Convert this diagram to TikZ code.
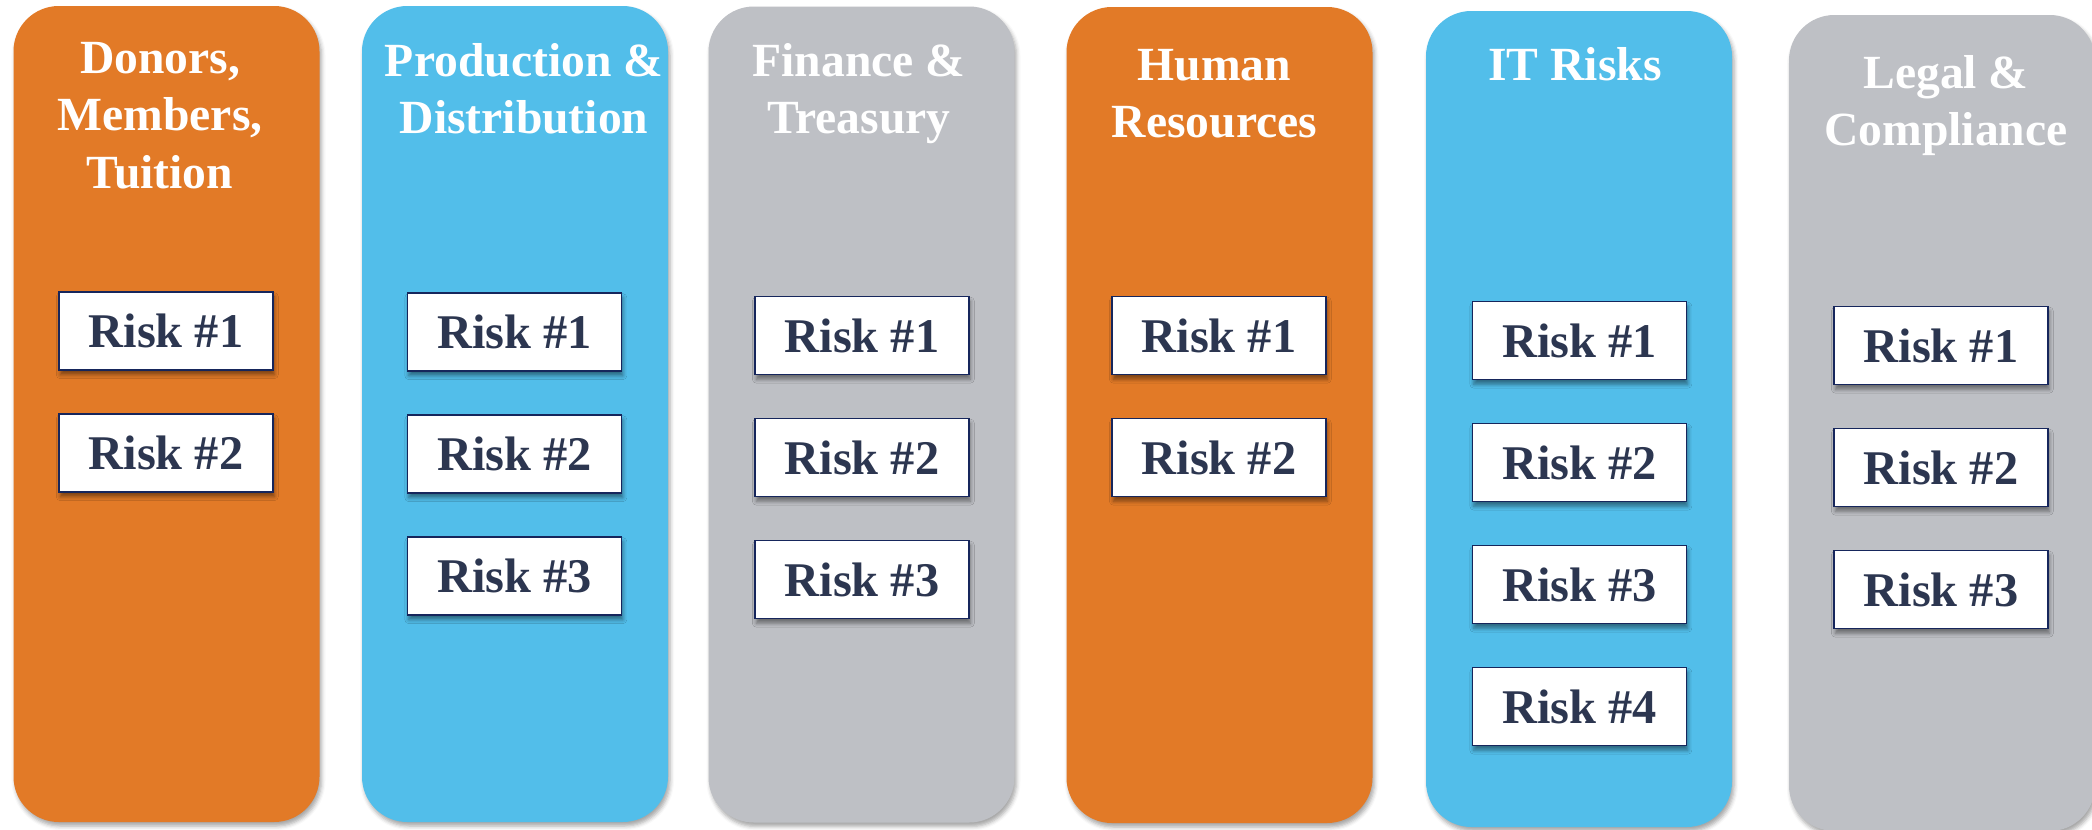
\documentclass[tikz,border=0pt]{standalone}
\usepackage{fontspec}
\setmainfont{Liberation Serif}
\usetikzlibrary{shadows.blur}

\definecolor{laneOrange}{RGB}{226,122,39}
\definecolor{laneBlue}{RGB}{82,190,234}
\definecolor{laneGray}{RGB}{190,192,197}
\definecolor{boxNavy}{RGB}{22,38,92}
\definecolor{riskInk}{RGB}{44,54,80}

\tikzset{
  lane/.style={rounded corners=34pt, minimum width=229.5pt, minimum height=612pt,
    inner sep=0pt,
    blur shadow={shadow xshift=1.5pt, shadow yshift=-3pt, shadow blur radius=3pt, shadow opacity=35}},
  lanetitle/.style={anchor=north, inner sep=0pt, align=center, text=white,
    font=\fontsize{35.7}{43.1}\selectfont\bfseries},
  risk/.style={draw=boxNavy, line width=1.3pt, fill=white,
    minimum width=160.5pt, minimum height=58.5pt, inner sep=0pt,
    text=riskInk, font=\fontsize{36.3}{42}\selectfont\bfseries,
    blur shadow={shadow xshift=1pt, shadow yshift=-3.5pt, shadow blur radius=3pt, shadow opacity=45}},
}

\begin{document}
\begin{tikzpicture}[x=0.75pt, y=-0.75pt]
  \useasboundingbox (0,0) rectangle (2092,829);

  % category lanes
  \node[lane, fill=laneOrange] (lane1) at (166.5,414) {};
  \node[lane, fill=laneBlue]   (lane2) at (515,414) {};
  \node[lane, fill=laneGray]   (lane3) at (861.5,414.5) {};
  \node[lane, fill=laneOrange] (lane4) at (1219.5,415) {};
  \node[lane, fill=laneBlue]   (lane5) at (1579,419) {};
  \node[lane, fill=laneGray]   (lane6) at (1942,423) {};

  % lane headings
  \node[lanetitle] (title1) at (160,33)   {\strut Donors,\\Members,\\Tuition};
  \node[lanetitle] (title2) at (524,36)   {\strut Production \&\\Distribution};
  \node[lanetitle] (title3) at (859,36)   {\strut Finance \&\\Treasury};
  \node[lanetitle] (title4) at (1214.5,40){\strut Human\\Resources};
  \node[lanetitle] (title5) at (1575,40)  {\strut IT Risks};
  \node[lanetitle] (title6) at (1946,48)  {\strut Legal \&\\Compliance};

  % risk cards: lane index / x centre / first y / number of cards
  \foreach \lane/\cx/\cy/\n in {1/166/331/2, 2/514.5/332/3, 3/862/335.5/3,
                                4/1219/335.5/2, 5/1579.5/340.5/4, 6/1941/345.5/3}{
    \foreach \k in {1,...,\n}{
      \node[risk] (risk\lane-\k) at (\cx,{\cy+122*(\k-1)}) {Risk \#\k};
    }
  }
\end{tikzpicture}
\end{document}
